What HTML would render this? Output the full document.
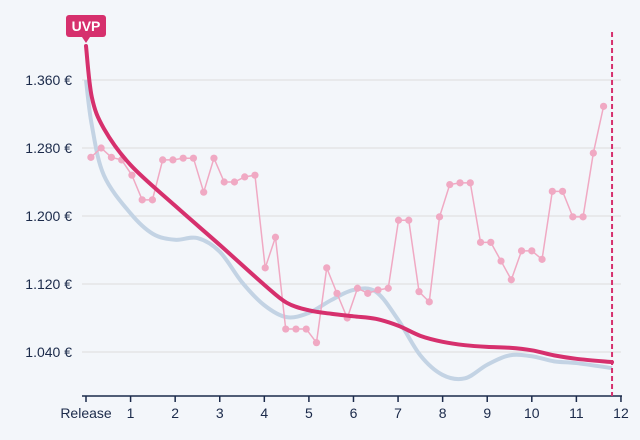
<!DOCTYPE html>
<html><head><meta charset="utf-8"><style>
body{margin:0;background:#f3f6fa;font-family:"Liberation Sans",sans-serif}
svg{display:block}
</style></head><body>
<svg id="c" width="640" height="440">
<rect width="640" height="440" fill="#f3f6fa"/>
<g id="grid"></g><g id="axes"></g><g id="series"></g>
</svg>
<script>
const yTicks=[1040,1120,1200,1280,1360];
const yTickLabels=["1.040 €","1.120 €","1.200 €","1.280 €","1.360 €"];
const xTicks=[0,1,2,3,4,5,6,7,8,9,10,11,12];
const xTickLabels=["Release","1","2","3","4","5","6","7","8","9","10","11","12"];
const priceStart=0.11, priceStep=0.23;
const priceValues=[1269,1280,1269,1266,1248,1219,1219,1266,1266,1268,1268,1228,1268,1240,1240,1246,1248,1139,1175,1067,1067,1067,1051,1139,1109,1080,1115,1109,1113,1115,1195,1195,1111,1099,1199,1237,1239,1239,1169,1169,1147,1125,1159,1159,1149,1229,1229,1199,1199,1274,1329];
const uvpMonths=[0,0.13,0.4,1,2,3,4,4.5,5,5.5,6,6.5,7,7.5,8,8.5,9,9.5,10,10.5,11,11.8];
const uvpValues=[1400,1340,1303,1260,1212,1166,1119,1098,1089,1085,1082,1079,1071,1059,1052,1048,1046,1045,1042,1036,1032,1028];
const avgMonths=[0,0.13,0.4,1,1.5,2,2.5,3,3.5,4,4.5,5,5.5,6,6.5,7,7.5,8,8.5,9,9.5,10,10.5,11,11.8];
const avgValues=[1360,1307,1248,1203,1179,1172,1174,1158,1122,1095,1081,1086,1101,1113,1111,1078,1036,1013,1009,1025,1036,1035,1029,1027,1021];
const todayMonth=11.8;

const NS="http://www.w3.org/2000/svg";
const xS=m=>86+m*44.58;
const yS=v=>80+(1360-v)*0.85;
function mk(tag,attrs,parent){const e=document.createElementNS(NS,tag);for(const k in attrs)e.setAttribute(k,attrs[k]);parent.appendChild(e);return e;}
const grid=document.getElementById('grid'),axes=document.getElementById('axes'),ser=document.getElementById('series');
yTicks.forEach((v,i)=>{
 const l=mk('line',{x1:82,x2:621,y1:yS(v),y2:yS(v),stroke:'#dcdcdc','stroke-width':1},grid);
 
 
 const t=mk('text',{x:72,y:yS(v)+5,'text-anchor':'end','font-size':14,fill:'#1b2a4a'},axes);
 t.textContent=yTickLabels[i];
 
 
});
const ax=mk('line',{x1:82,x2:622,y1:396,y2:396,stroke:'#1b2a4a','stroke-width':1.5},axes);


xTicks.forEach((m,i)=>{
 const tk=mk('line',{x1:xS(m),x2:xS(m),y1:396,y2:402,stroke:'#1b2a4a','stroke-width':1.5},axes);
 
 
 const t=mk('text',{x:xS(m),y:418,'text-anchor':'middle','font-size':14,fill:'#1b2a4a'},axes);
 t.textContent=xTickLabels[i];
 
 
});
function smooth(pts){let d=`M${pts[0][0]},${pts[0][1]}`;for(let i=0;i<pts.length-1;i++){const p0=pts[i-1]||pts[i],p1=pts[i],p2=pts[i+1],p3=pts[i+2]||p2;const c1=[p1[0]+(p2[0]-p0[0])/6,p1[1]+(p2[1]-p0[1])/6],c2=[p2[0]-(p3[0]-p1[0])/6,p2[1]-(p3[1]-p1[1])/6];d+=` C${c1[0]},${c1[1]} ${c2[0]},${c2[1]} ${p2[0]},${p2[1]}`;}return d;}
const avg=mk('path',{d:smooth(avgMonths.map((m,i)=>[xS(m),yS(avgValues[i])])),fill:'none',stroke:'#c3d3e4','stroke-width':4},ser);


const pp=priceValues.map((v,i)=>[xS(priceStart+i*priceStep),yS(v)]);
const pl=mk('polyline',{points:pp.map(p=>p.join(',')).join(' '),fill:'none',stroke:'#f0a9c3','stroke-width':1.5},ser);


pp.forEach(p=>{const c=mk('circle',{cx:p[0],cy:p[1],r:3.6,fill:'#f0a9c3'},ser);
 
 });
const uvp=mk('path',{d:smooth(uvpMonths.map((m,i)=>[xS(m),yS(uvpValues[i])])),fill:'none',stroke:'#d6306d','stroke-width':4,'stroke-linecap':'round'},ser);


const td=mk('line',{x1:xS(todayMonth),x2:xS(todayMonth),y1:32,y2:396,stroke:'#d6306d','stroke-width':2,'stroke-dasharray':'5,3'},ser);


const g=mk('g',{},ser);


mk('rect',{x:66,y:15,width:40,height:22,rx:3,fill:'#d6306d'},g);
mk('path',{d:'M82,37 L86,43 L90,37 Z',fill:'#d6306d'},g);
const lt=mk('text',{x:86,y:31,'text-anchor':'middle','font-size':14,'font-weight':'bold',fill:'#fff'},g);
lt.textContent='UVP';
</script>
</body></html>
